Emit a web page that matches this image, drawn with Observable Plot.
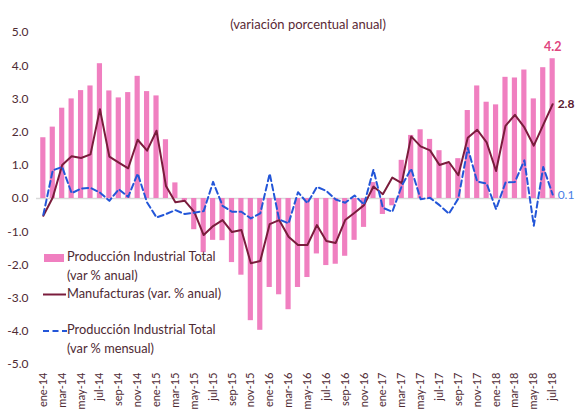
<!DOCTYPE html>
<html>
<head>
<meta charset="utf-8">
<script src="https://cdn.jsdelivr.net/npm/d3@7"></script>
<script src="https://cdn.jsdelivr.net/npm/@observablehq/plot@0.6"></script>
<style>
  body { margin: 0; background: #fff; }
  #wrap { position: relative; width: 575px; height: 411px; font-family: Lato, "Open Sans", sans-serif; }
  #legend { position: absolute; left: 0; top: 0; pointer-events: none; }
</style>
</head>
<body>
<div id="wrap"></div>
<script>
const monthNames = ["ene","feb","mar","abr","may","jun","jul","ago","sep","oct","nov","dic"];
const years = ["14","15","16","17","18"];
const months = [];
for (const y of years) for (const m of monthNames) months.push(m + "-" + y);
months.length = 55; // ene-14 .. jul-18

const prodAnual = [
  1.83, 2.15, 2.72, 3.00, 3.25, 3.39, 4.06, 3.24, 3.03, 3.19, 3.68, 3.22,
  3.09, 1.77, 0.47, -0.08, -0.94, -1.63, -1.26, -1.27, -1.93, -2.31, -3.68, -3.97,
  -2.68, -2.90, -3.35, -2.68, -2.38, -1.67, -2.02, -1.98, -1.74, -1.26, -0.87, 0.48,
  -0.48, -0.22, 1.15, 1.90, 2.07, 1.78, 1.44, 1.05, 1.20, 2.65, 3.39, 2.90,
  2.82, 3.65, 3.63, 3.87, 3.00, 3.94, 4.21
];
const manufacturas = [
  -0.52, 0.03, 1.01, 1.27, 1.22, 1.33, 2.69, 1.26, 1.08, 0.91, 1.77, 1.44,
  2.04, 0.38, -0.11, -0.07, -0.40, -1.10, -0.83, -0.65, -1.01, -0.95, -1.95, -1.88,
  -0.77, -0.65, -1.15, -1.40, -1.40, -0.80, -1.28, -1.34, -0.65, -0.43, -0.20, 0.36,
  0.13, 0.63, 0.46, 1.87, 1.57, 1.45, 1.01, 1.10, 0.70, 1.83, 2.07, 1.69,
  0.83, 2.19, 2.52, 2.14, 1.59, 2.22, 2.84
];
const prodMensual = [
  -0.49, 0.85, 0.95, 0.16, 0.30, 0.32, 0.18, -0.07, 0.28, 0.05, 0.75, -0.12,
  -0.57, -0.47, -0.35, -0.47, -0.43, -0.38, 0.50, -0.22, -0.40, -0.40, -0.60, -0.45,
  0.75, -0.63, -0.75, 0.19, -0.14, 0.35, 0.23, -0.03, -0.13, 0.09, -0.18, 0.87,
  -0.28, -0.40, 0.38, 0.90, -0.02, 0.02, -0.20, -0.46, 0.00, 1.52, 0.51, 0.45,
  -0.32, 0.48, 0.50, 1.15, -0.82, 0.95, 0.12
];
const xTicks = months.filter((d, i) => i % 2 === 0);
const yTicks = [-5, -4, -3, -2, -1, 0, 1, 2, 3, 4, 5];
const title = "(variación porcentual anual)";
const legendItems = [
  ["Producción Industrial Total", "(var % anual)"],
  ["Manufacturas (var. % anual)"],
  ["Producción Industrial Total", "(var % mensual)"]
];

const colBar = "#f07fc0", colMan = "#7a1c3c", colMen = "#2356d8";
const txtCol = "#4e2a33";
const data = months.map((m, i) => ({m, a: prodAnual[i], f: manufacturas[i], s: prodMensual[i]}));
const last = [data[data.length - 1]];

const chart = Plot.plot({
  width: 575, height: 411,
  marginLeft: 36, marginRight: 16, marginTop: 32, marginBottom: 47,
  style: {fontFamily: "Lato, 'Open Sans', sans-serif", fontSize: "12px", color: txtCol, background: "#fff", overflow: "visible"},
  x: {type: "band", domain: months, padding: 0.45, round: false},
  y: {domain: [-5, 5]},
  marks: [
    Plot.axisX({ticks: xTicks, tickRotate: -90, tickSize: 0, tickPadding: 8, fontSize: 11, label: null}),
    Plot.axisY({ticks: yTicks, tickFormat: d => d.toFixed(1), tickSize: 0, tickPadding: 8, fontSize: 12, label: null}),
    Plot.ruleY([0], {stroke: "#d9d9d9", strokeWidth: 1.5}),
    Plot.barY(data, {x: "m", y: "a", fill: colBar}),
    Plot.line(data, {x: "m", y: "f", stroke: colMan, strokeWidth: 2}),
    Plot.line(data, {x: "m", y: "s", stroke: colMen, strokeWidth: 2, strokeDasharray: "6,3.5"}),
    Plot.text(last, {x: "m", y: "a", text: d => d.a.toFixed(1), dy: -12, fill: "#e0457f", fontWeight: 700, fontSize: 12.5}),
    Plot.text(last, {x: "m", y: "f", text: d => d.f.toFixed(1), dx: 5, textAnchor: "start", fill: "#5a1a30", fontWeight: 700, fontSize: 12}),
    Plot.text(last, {x: "m", y: "s", text: d => d.s.toFixed(1), dx: 5, dy: 1, textAnchor: "start", fill: "#4a80e6", fontSize: 12}),
    Plot.text([title], {frameAnchor: "top", dy: -13, dx: 10, fill: "#5a2a35", fontSize: 13})
  ]
});
const wrap = document.getElementById("wrap");
wrap.appendChild(chart);

// Legend overlay
const ns = "http://www.w3.org/2000/svg";
const lg = document.createElementNS(ns, "svg");
lg.setAttribute("id", "legend");
lg.setAttribute("width", 575);
lg.setAttribute("height", 411);
const rows = [258, 294.5, 331];
const lh = 18.8;
function el(tag, attrs) { const e = document.createElementNS(ns, tag); for (const k in attrs) e.setAttribute(k, attrs[k]); lg.appendChild(e); return e; }
el("rect", {x: 44, y: rows[0] - 4, width: 20, height: 8, fill: colBar});
el("line", {x1: 43, x2: 66, y1: rows[1], y2: rows[1], stroke: colMan, "stroke-width": 2});
el("line", {x1: 43, x2: 67, y1: rows[2], y2: rows[2], stroke: colMen, "stroke-width": 2, "stroke-dasharray": "6,3.5"});
legendItems.forEach((lines, i) => {
  lines.forEach((t, j) => {
    const tx = el("text", {x: 67, y: rows[i] + j * lh, "dominant-baseline": "middle", fill: txtCol, "font-size": "12.8px", "font-family": "Lato, 'Open Sans', sans-serif"});
    tx.textContent = t;
  });
});
wrap.appendChild(lg);
</script>
</body>
</html>
